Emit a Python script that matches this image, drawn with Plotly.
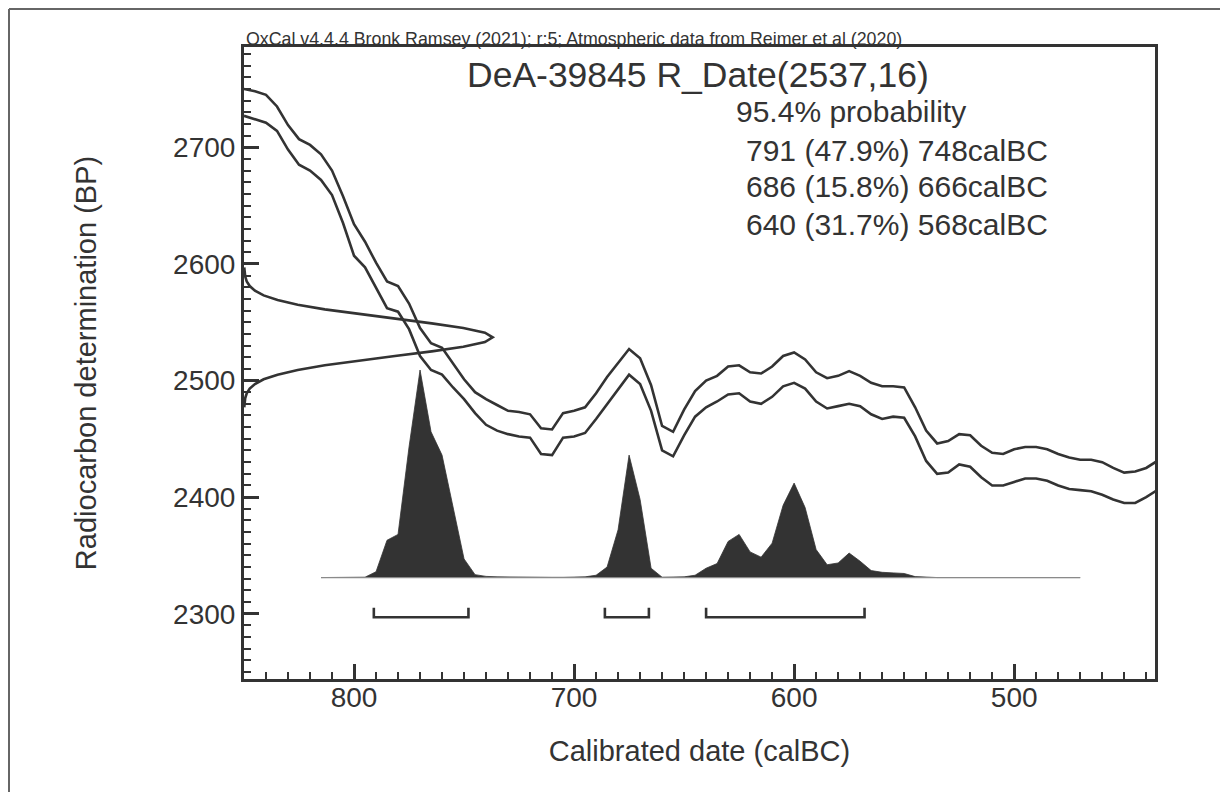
import plotly.graph_objects as go

# ---------------- data ----------------
cal_years = list(range(850, 434, -5))  # calBC, 850 ... 435
curve_upper = [2750, 2748, 2745, 2735, 2719, 2707, 2702, 2694, 2680, 2658,
               2634, 2619, 2601, 2585, 2581, 2566, 2545, 2532, 2528, 2514,
               2501, 2490, 2484, 2479, 2474, 2473, 2471, 2459, 2458, 2472,
               2474, 2477, 2489, 2503, 2515, 2527, 2519, 2496, 2461, 2456,
               2475, 2491, 2500, 2504, 2512, 2513, 2507, 2506, 2512, 2521,
               2524, 2518, 2507, 2502, 2504, 2508, 2504, 2498, 2495, 2495,
               2494, 2477, 2457, 2446, 2448, 2454, 2453, 2444, 2438, 2437,
               2441, 2443, 2443, 2441, 2437, 2434, 2432, 2432, 2430, 2425,
               2421, 2422, 2425, 2431]
curve_lower = [2727, 2724, 2721, 2714, 2698, 2685, 2680, 2672, 2659, 2635,
               2607, 2597, 2579, 2562, 2559, 2544, 2521, 2509, 2505, 2494,
               2484, 2472, 2462, 2457, 2454, 2452, 2451, 2437, 2436, 2451,
               2452, 2455, 2467, 2480, 2493, 2505, 2497, 2474, 2440, 2435,
               2453, 2469, 2477, 2482, 2488, 2489, 2482, 2480, 2486, 2495,
               2498, 2493, 2482, 2476, 2478, 2480, 2478, 2471, 2467, 2469,
               2468, 2452, 2431, 2420, 2421, 2428, 2426, 2417, 2410, 2410,
               2413, 2416, 2416, 2414, 2410, 2407, 2406, 2405, 2402, 2398,
               2395, 2395, 2400, 2406]

# measured radiocarbon date distribution (relative density vs BP)
meas_bp = list(range(2477, 2598, 4))
meas_prob = [0.001, 0.002, 0.005, 0.011, 0.023, 0.044, 0.079, 0.135, 0.216, 0.325,
             0.458, 0.607, 0.755, 0.882, 0.969, 1.000, 0.969, 0.882, 0.755, 0.607,
             0.458, 0.325, 0.216, 0.135, 0.079, 0.044, 0.023, 0.011, 0.005, 0.002,
             0.001]

# calibrated (posterior) distribution, relative units
post_years = list(range(815, 469, -5))  # 815 ... 470 calBC
post_prob = [0, 0, 0, 0, 0.3, 5, 32, 37, 112, 178,
             125, 105, 60, 16, 2.5, 1, 0.6, 0.4, 0.3, 0.2,
             0.2, 0.2, 0.2, 0.3, 0.6, 2, 9, 41, 105, 67,
             8, 0.3, 0.2, 0.6, 2, 8, 12, 31, 37, 22,
             17.5, 29.5, 62, 81, 60, 24, 11, 12.5, 21, 14,
             6, 4.5, 4, 3.5, 0.8, 0.2, 0, 0, 0, 0,
             0, 0, 0, 0, 0, 0, 0, 0, 0, 0]

# 95.4% ranges
range_from = [791, 686, 640]
range_to = [748, 666, 568]
range_pct = [47.9, 15.8, 31.7]

x_ticks = [800, 700, 600, 500]
y_ticks = [2300, 2400, 2500, 2600, 2700]

title_text = "DeA-39845 R_Date(2537,16)"
credit_text = "OxCal v4.4.4 Bronk Ramsey (2021); r:5; Atmospheric data from Reimer et al (2020)"
prob_label = "95.4% probability"
x_title = "Calibrated date (calBC)"
y_title = "Radiocarbon determination (BP)"

# ---------------- layout constants ----------------
PAGE_W, PAGE_H = 1228, 792
OFF = 8                                  # default page (body) margin
W, H = PAGE_W - OFF, PAGE_H - OFF        # figure size so it fits the window
PL, PR, PT, PB = 244, 1155, 47, 679     # plot area in page pixels
X_RANGE = [850, 436]
Y_RANGE = [2244, 2786]
MEAS_WIDTH = 113       # years for the peak of the measured distribution
POST_BASE = 2331       # baseline of calibrated distribution
POST_HEIGHT = 178      # BP units for the peak of calibrated distribution
BAR_Y, LEG_Y = 2297, 2305
INK = "#333333"
FONT = "Liberation Sans, Arial, sans-serif"


def px_x(p):
    return (p - PL) / (PR - PL)


def px_y(p):
    return (PB - p) / (PB - PT)


fig = go.Figure()

# calibrated distribution (filled)
pmax = max(post_prob)
fig.add_trace(go.Scatter(x=post_years, y=[POST_BASE] * len(post_years),
                         mode="lines", line=dict(width=0, color=INK),
                         hoverinfo="skip", showlegend=False))
fig.add_trace(go.Scatter(x=post_years,
                         y=[POST_BASE + v / pmax * POST_HEIGHT for v in post_prob],
                         mode="lines", fill="tonexty", fillcolor=INK,
                         line=dict(width=0.8, color=INK), showlegend=False))
fig.add_trace(go.Scatter(x=[post_years[0], post_years[-1]], y=[POST_BASE, POST_BASE],
                         mode="lines", line=dict(width=1.2, color="#8a8a8a"),
                         showlegend=False))

# calibration curve (1-sigma envelope)
fig.add_trace(go.Scatter(x=cal_years, y=curve_upper, mode="lines",
                         line=dict(width=2.6, color=INK), showlegend=False))
fig.add_trace(go.Scatter(x=cal_years, y=curve_lower, mode="lines",
                         line=dict(width=2.6, color=INK), showlegend=False))

# measured date distribution on the y axis
x_left = X_RANGE[0]
fig.add_trace(go.Scatter(x=[x_left - p * MEAS_WIDTH for p in meas_prob], y=meas_bp,
                         mode="lines", line=dict(width=2.6, color=INK),
                         showlegend=False, cliponaxis=False))

# range brackets
for a, b in zip(range_from, range_to):
    fig.add_trace(go.Scatter(x=[a, a, b, b], y=[LEG_Y, BAR_Y, BAR_Y, LEG_Y],
                             mode="lines", line=dict(width=2.6, color=INK),
                             showlegend=False))

axis_common = dict(
    showline=True, linecolor=INK, linewidth=3, mirror=True,
    ticks="inside", ticklen=15, tickwidth=2.5, tickcolor=INK,
    showgrid=False, zeroline=False,
    tickfont=dict(family=FONT, size=28, color=INK),
)

fig.update_xaxes(range=X_RANGE, tickmode="array", tickvals=x_ticks,
                 minor=dict(ticks="inside", dtick=10, tick0=0, ticklen=7,
                            tickwidth=2, tickcolor=INK, showgrid=False),
                 title=dict(text=x_title, font=dict(family=FONT, size=29, color=INK),
                            standoff=30),
                 ticklabelstandoff=-9,
                 **axis_common)
fig.update_yaxes(range=Y_RANGE, tickmode="array", tickvals=y_ticks,
                 minor=dict(ticks="inside", dtick=10, tick0=0, ticklen=7,
                            tickwidth=2, tickcolor=INK, showgrid=False),
                 title=dict(text=y_title, font=dict(family=FONT, size=29, color=INK),
                            standoff=68),
                 ticklabelstandoff=0,
                 **axis_common)

annotations = [
    dict(text=credit_text, x=px_x(244), y=px_y(39), xanchor="left", yanchor="middle",
         font=dict(family=FONT, size=17.8, color=INK)),
    dict(text=title_text, x=px_x(698), y=px_y(75), xanchor="center", yanchor="middle",
         font=dict(family=FONT, size=35.5, color=INK)),
    dict(text=prob_label, x=px_x(734), y=px_y(111), xanchor="left", yanchor="middle",
         font=dict(family=FONT, size=30, color=INK)),
]
line_y = [150, 187, 224]
for a, b, pct, ly in zip(range_from, range_to, range_pct, line_y):
    annotations.append(dict(text=f"{a} ({pct:.1f}%) {b}calBC", x=px_x(1050), y=px_y(ly),
                            xanchor="right", yanchor="middle",
                            font=dict(family=FONT, size=30, color=INK)))
for a in annotations:
    a.update(xref="paper", yref="paper", showarrow=False)

# thin frame at the top and left of the page
FRAME_X, FRAME_Y = OFF + 1, OFF + 1
shapes = [
    dict(type="line", xref="paper", yref="paper", x0=px_x(FRAME_X), x1=px_x(PAGE_W),
         y0=px_y(FRAME_Y), y1=px_y(FRAME_Y), line=dict(color="#666666", width=2)),
    dict(type="line", xref="paper", yref="paper", x0=px_x(FRAME_X), x1=px_x(FRAME_X),
         y0=px_y(FRAME_Y), y1=px_y(PAGE_H), line=dict(color="#666666", width=2)),
]

fig.update_layout(
    width=W, height=H,
    margin=dict(l=PL - OFF, r=PAGE_W - PR, t=PT - OFF, b=PAGE_H - PB,
                autoexpand=False),
    paper_bgcolor="white", plot_bgcolor="white",
    annotations=annotations, shapes=shapes,
    font=dict(family=FONT, color=INK),
    showlegend=False,
)

fig.write_html("out.html")
